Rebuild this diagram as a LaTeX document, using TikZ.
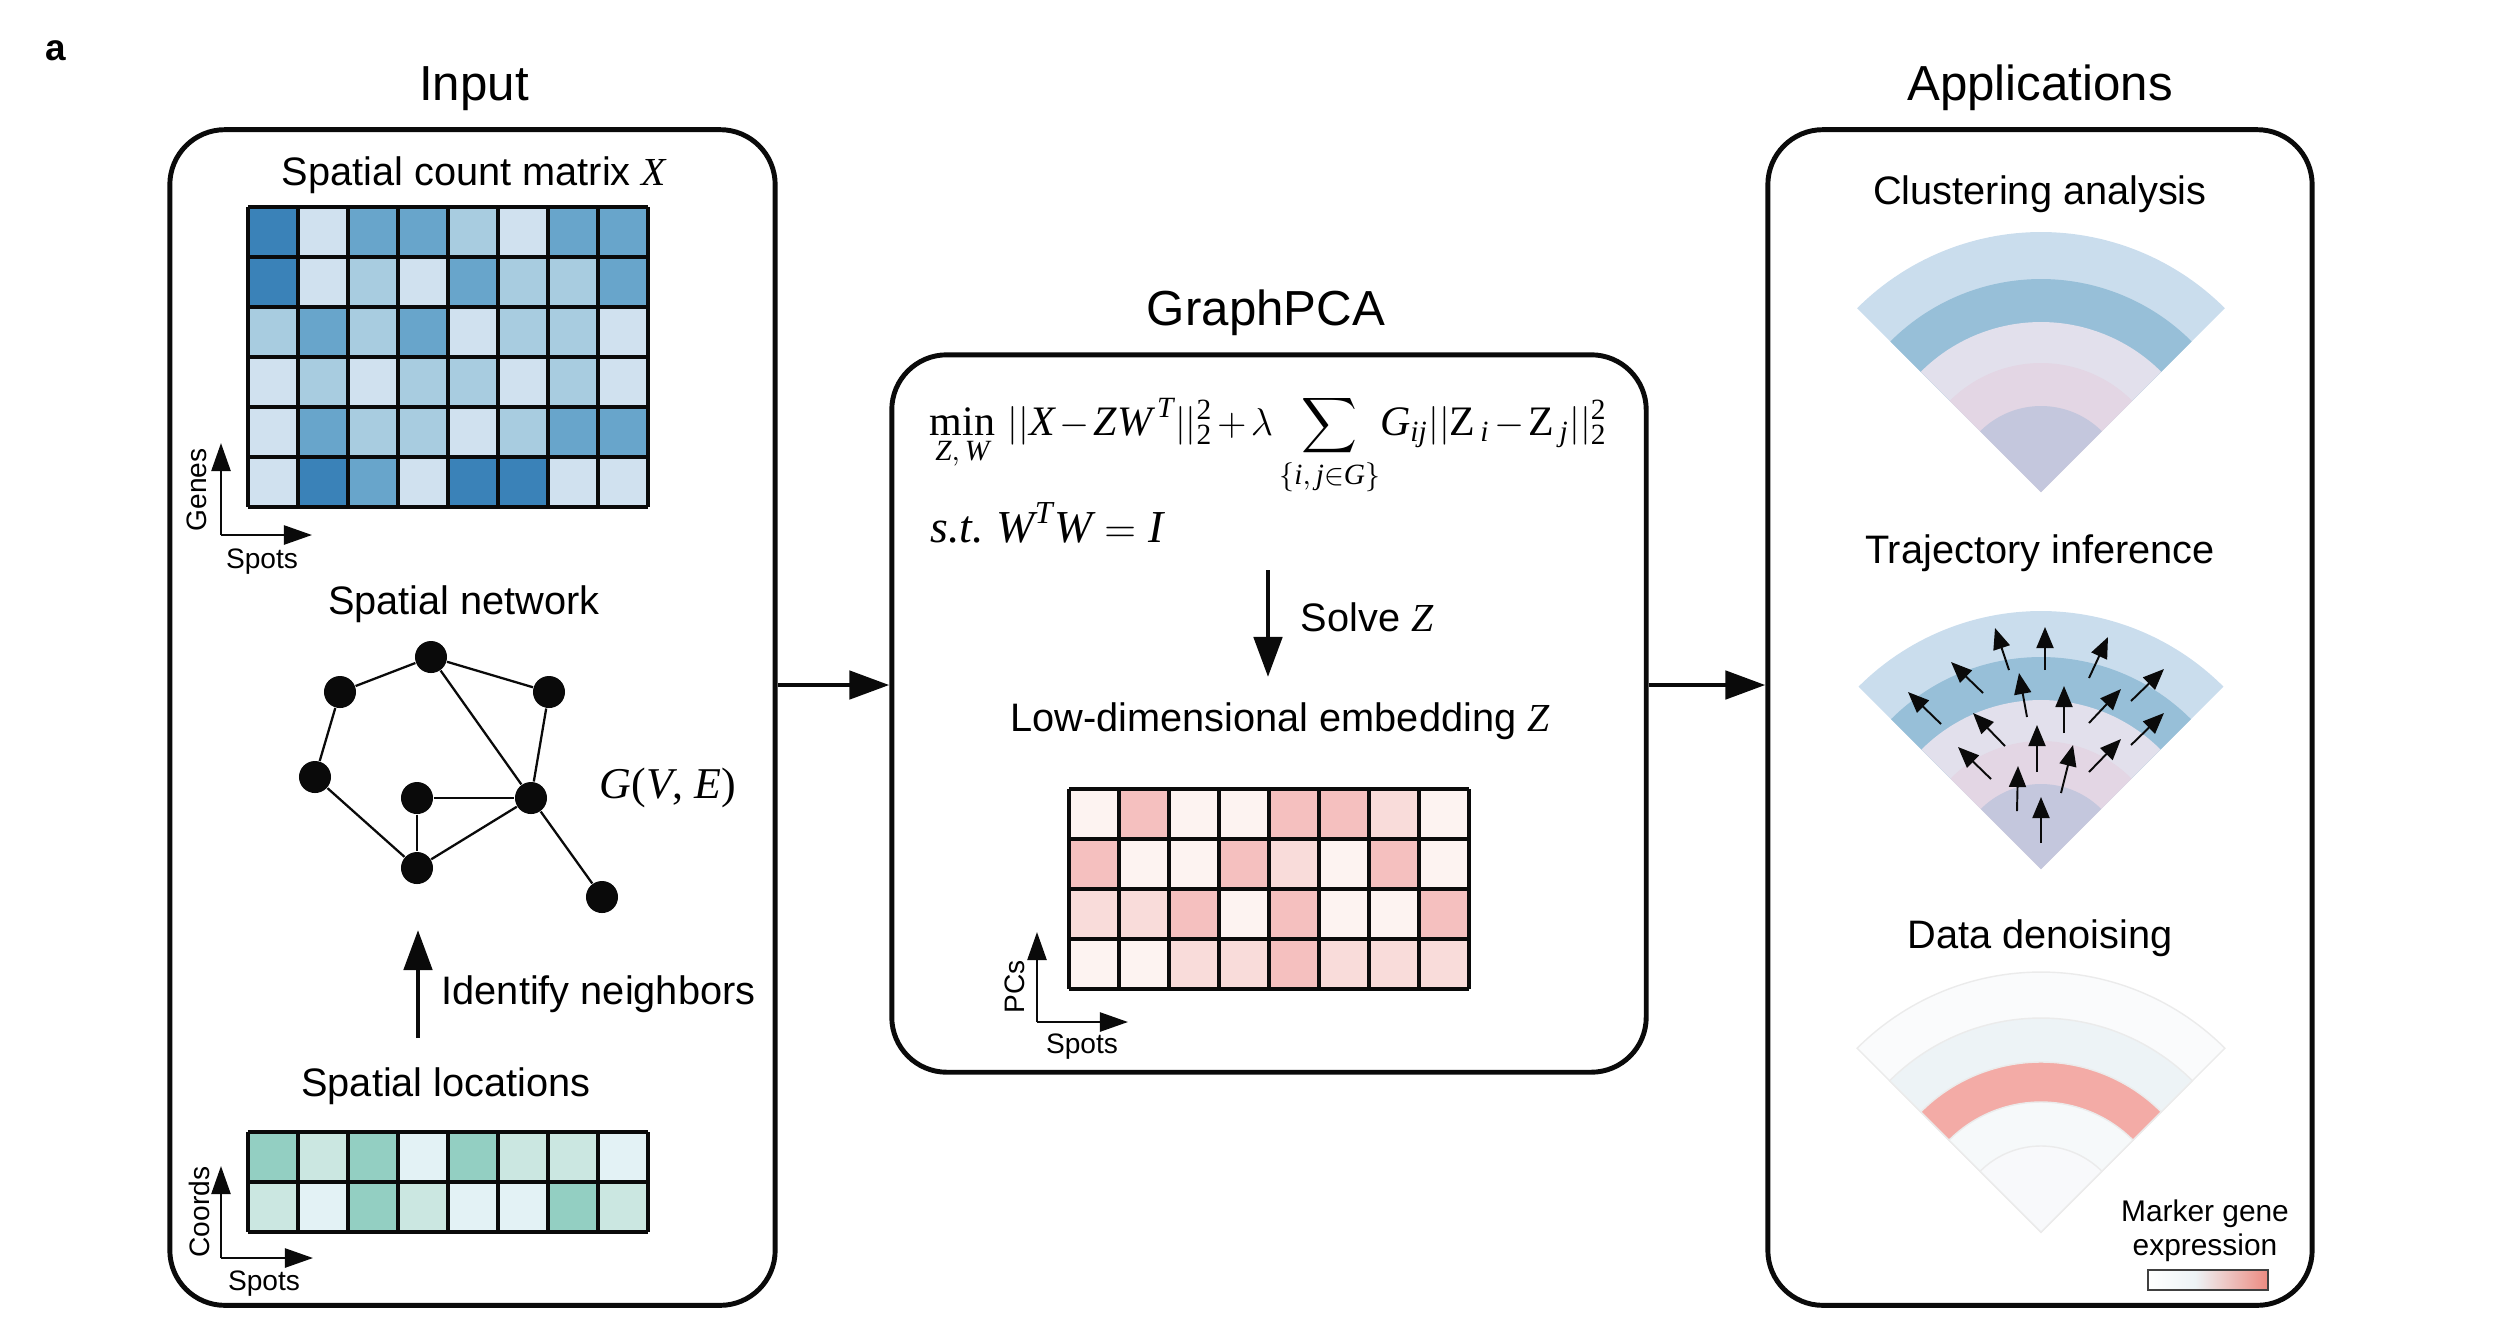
\documentclass[tikz,border=0pt]{standalone}
\usepackage{amsmath}
\usepackage{graphicx}
\usepackage[no-math]{fontspec}
\setmainfont{Liberation Sans}
\newfontfamily\tms{Liberation Serif}
\newcommand{\mv}[1]{\text{\tms\itshape #1}}
\newcommand{\mr}[1]{\text{\tms #1}}
\usetikzlibrary{arrows.meta,calc}
\definecolor{ink}{HTML}{0A0A0A}
\definecolor{bD}{HTML}{3A82B8}
\definecolor{bM}{HTML}{68A5CB}
\definecolor{bL}{HTML}{A8CCE0}
\definecolor{bV}{HTML}{D0E1EF}
\definecolor{gD}{HTML}{93CFC2}
\definecolor{gL}{HTML}{CBE7E1}
\definecolor{gV}{HTML}{E3F2F5}
\definecolor{pV}{HTML}{FDF3F1}
\definecolor{pL}{HTML}{F9DCDA}
\definecolor{pM}{HTML}{F5C0BF}
\definecolor{fA}{HTML}{CADDED}
\definecolor{fB}{HTML}{97BFD8}
\definecolor{fC}{HTML}{E2E0EC}
\definecolor{fD}{HTML}{E3D6E4}
\definecolor{fE}{HTML}{C4C7DD}
\definecolor{dA}{HTML}{FAFBFC}
\definecolor{dB}{HTML}{EDF3F6}
\definecolor{dC}{HTML}{F3ABA6}
\definecolor{dD}{HTML}{F6F9FA}
\definecolor{dE}{HTML}{F8F9FB}
\definecolor{cbR}{HTML}{EC8A80}
\tikzset{
  panel/.style={draw=ink, line width=1.4pt, rounded corners=0.55cm, inner sep=0pt},
  bigarrow/.style={draw=ink, line width=1.4pt, -{Triangle[length=0.4cm,width=0.28cm]}},
  axarrow/.style={draw=ink, line width=0.7pt, -{Triangle[length=0.28cm,width=0.19cm]}},
  trajarrow/.style={draw=ink, line width=0.55pt, -{Triangle[length=0.21cm,width=0.17cm]}},
  gridline/.style={draw=ink, line width=1pt},
  gnode/.style={circle, fill=ink, minimum size=0.32cm, inner sep=0pt},
  gedge/.style={draw=ink, line width=0.65pt},
  title/.style={font=\fontsize{14}{16}\selectfont, anchor=base, inner sep=0pt},
  sub/.style={font=\fontsize{11.3}{13}\selectfont, anchor=base, inner sep=0pt},
  small/.style={font=\fontsize{8}{9}\selectfont, inner sep=0pt},
}
\begin{document}
\begin{tikzpicture}[x=0.01cm, y=-0.01cm]
\useasboundingbox (0,0) rectangle (2514,1338);

% panel label
\node[font=\fontsize{10.5}{12}\selectfont\bfseries, anchor=base, inner sep=0pt] (lbl) at (56,60) {a};

% titles
\node[title] (tin) at (474,100) {Input};
\node[title] (tgp) at (1266,325) {GraphPCA};
\node[title] (tap) at (2040,100) {Applications};

% panels
\node[panel, minimum width=6.05cm, minimum height=11.75cm] (inbox) at (472.5,717.5) {};
\node[panel, minimum width=7.54cm, minimum height=7.17cm] (midbox) at (1269,713.5) {};
\node[panel, minimum width=5.44cm, minimum height=11.75cm] (appbox) at (2040,717.5) {};

% connectors between panels
\coordinate (rowA) at (0,685);
\draw[bigarrow] (inbox.east |- rowA) -- (midbox.west |- rowA);
\draw[bigarrow] (midbox.east |- rowA) -- (appbox.west |- rowA);

% ---------- Input panel ----------
\node[sub] (tscm) at (474,185) {Spatial count matrix {\tms\itshape X}};
\foreach \row [count=\r from 0] in {{bD,bV,bM,bM,bL,bV,bM,bM},{bD,bV,bL,bV,bM,bL,bL,bM},{bL,bM,bL,bM,bV,bL,bL,bV},{bV,bL,bV,bL,bL,bV,bL,bV},{bV,bM,bL,bL,bV,bL,bM,bM},{bV,bD,bM,bV,bD,bD,bV,bV}}{
  \foreach \c [count=\k from 0] in \row {
    \fill[\c] ({248+50*\k},{207+50*\r}) rectangle ++(50,50);
  }
}
\foreach \k in {0,...,8} \draw[gridline] ({248+50*\k},207) -- ({248+50*\k},507);
\foreach \r in {0,...,6} \draw[gridline] (248,{207+50*\r}) -- (648,{207+50*\r});

\coordinate (gax) at (221,535);
\coordinate (gaxU) at (221,443);
\coordinate (gaxR) at (312,535);
\draw[axarrow] (gax) -- (gaxU);
\draw[axarrow] (gax) -- (gaxR);
\node[small, rotate=90] (lgenes) at (197,490) {Genes};
\node[small] (lspots1) at (262,562) {Spots};

\node[sub] (tsn) at (464,614) {Spatial network};
\node[gnode] (n1) at (431,657) {};
\node[gnode] (n2) at (340,692) {};
\node[gnode] (n3) at (549,692) {};
\node[gnode] (n4) at (315,777) {};
\node[gnode] (n5) at (417,798) {};
\node[gnode] (n6) at (531,798) {};
\node[gnode] (n7) at (417,868) {};
\node[gnode] (n8) at (602,897) {};
\draw[gedge] (n1) -- (n2);
\draw[gedge] (n1) -- (n3);
\draw[gedge] (n2) -- (n4);
\draw[gedge] (n4) -- (n7);
\draw[gedge] (n1) -- (n6);
\draw[gedge] (n3) -- (n6);
\draw[gedge] (n5) -- (n6);
\draw[gedge] (n5) -- (n7);
\draw[gedge] (n7) -- (n6);
\draw[gedge] (n6) -- (n8);
\node[font=\fontsize{12.5}{14}\selectfont\tms, inner sep=0pt] (gve) at (668,788) {\itshape G\upshape(\itshape V\upshape, \itshape E\upshape)};

\coordinate (idA) at (418,1038);
\coordinate (idB) at (418,930);
\draw[bigarrow] (idA) -- (idB);
\node[sub, anchor=base west] (tid) at (441,1004) {Identify neighbors};
\node[sub] (tsl) at (446,1096) {Spatial locations};

\foreach \row [count=\r from 0] in {{gD,gL,gD,gV,gD,gL,gL,gV},{gL,gV,gD,gL,gV,gV,gD,gL}}{
  \foreach \c [count=\k from 0] in \row {
    \fill[\c] ({248+50*\k},{1132+50*\r}) rectangle ++(50,50);
  }
}
\foreach \k in {0,...,8} \draw[gridline] ({248+50*\k},1132) -- ({248+50*\k},1232);
\foreach \r in {0,...,2} \draw[gridline] (248,{1132+50*\r}) -- (648,{1132+50*\r});

\coordinate (cax) at (221,1258);
\coordinate (caxU) at (221,1166);
\coordinate (caxR) at (313,1258);
\draw[axarrow] (cax) -- (caxU);
\draw[axarrow] (cax) -- (caxR);
\node[small, rotate=90] (lcoords) at (199,1212) {Coords};
\node[small] (lspots2) at (264,1284) {Spots};

% ---------- GraphPCA panel ----------
\node[font=\fontsize{13}{15}\selectfont, anchor=base west, inner sep=0pt] (form) at (929,435)
  {\resizebox{6.77cm}{!}{$\medmuskip=2mu\thickmuskip=3mu\displaystyle \mathop{\mr{min}}\limits_{\mv{Z},\,\mv{W}}\, ||\mv{X} - \mv{ZW}^{\,\mv{T}}||_{\mr{2}}^{\mr{2}} + \lambda \sum\limits_{\{\mv{i},\,\mv{j}\in \mv{G}\}}\! \mv{G}_{\mv{ij}}||\mr{Z}_{\,\mv{i}} - \mr{Z}_{\,\mv{j}}||_{\mr{2}}^{\mr{2}}$}};
\node[font=\fontsize{13}{15}\selectfont, anchor=base west, inner sep=0pt] (st) at (930,542)
  {$\mv{s.t.}\ \mv{W}^{\mv{T}}\mv{W} = \mv{I}$};
\coordinate (svA) at (1268,570);
\coordinate (svB) at (1268,677);
\draw[bigarrow] (svA) -- (svB);
\node[sub, anchor=base west] (tsolve) at (1300,631) {Solve {\tms\itshape Z}};
\node[sub] (tlow) at (1280,731) {Low-dimensional embedding {\tms\itshape Z}};

\foreach \row [count=\r from 0] in {{pV,pM,pV,pV,pM,pM,pL,pV},{pM,pV,pV,pM,pL,pV,pM,pV},{pL,pL,pM,pV,pM,pV,pV,pM},{pV,pV,pL,pL,pM,pL,pL,pL}}{
  \foreach \c [count=\k from 0] in \row {
    \fill[\c] ({1069+50*\k},{789+50*\r}) rectangle ++(50,50);
  }
}
\foreach \k in {0,...,8} \draw[gridline] ({1069+50*\k},789) -- ({1069+50*\k},989);
\foreach \r in {0,...,4} \draw[gridline] (1069,{789+50*\r}) -- (1469,{789+50*\r});

\coordinate (pax) at (1037,1022);
\coordinate (paxU) at (1037,932);
\coordinate (paxR) at (1128,1022);
\draw[axarrow] (pax) -- (paxU);
\draw[axarrow] (pax) -- (paxR);
\node[small, rotate=90] (lpcs) at (1015,987) {PCs};
\node[small] (lspots3) at (1082,1047) {Spots};

% ---------- Applications panel ----------
\node[sub] (tclu) at (2040,204) {Clustering analysis};
\foreach \rad/\col in {260/fA,213/fB,170/fC,129/fD,86/fE}
  \fill[\col] (2041,492) -- plot[domain=-135:-45, samples=60] ({2041+\rad*cos(\x)},{492+\rad*sin(\x)}) -- cycle;

\node[sub] (ttra) at (2040,563) {Trajectory inference};
\foreach \rad/\col in {258/fA,212/fB,169/fC,128/fD,85/fE}
  \fill[\col] (2041,869) -- plot[domain=-135:-45, samples=60] ({2041+\rad*cos(\x)},{869+\rad*sin(\x)}) -- cycle;
\foreach \ax/\ay/\bx/\by in {2009/670/1995/628, 2045/670/2045/627, 2089/678/2108/637, 1983/693/1951/662, 2027/717/2019/673, 2064/733/2064/686, 2089/723/2121/689, 2131/701/2164/669, 1941/724/1908/692, 2005/746/1973/713, 2037/772/2037/725, 2089/772/2121/739, 2131/745/2164/713, 1991/779/1958/747, 2017/811/2018/766, 2061/793/2073/745, 2041/843/2041/797}
  \draw[trajarrow] (\ax,\ay) -- (\bx,\by);

\node[sub] (tden) at (2040,948) {Data denoising};
\foreach \rad/\col in {260/dA,214/dB,170/dC,130/dD,86/dE}
  \filldraw[fill=\col, draw=black!8, line width=0.4pt] (2041,1232) -- plot[domain=-135:-45, samples=60] ({2041+\rad*cos(\x)},{1232+\rad*sin(\x)}) -- cycle;

\node[font=\fontsize{8.5}{10}\selectfont, anchor=base, inner sep=0pt] (tmk1) at (2205,1221) {Marker gene};
\node[font=\fontsize{8.5}{10}\selectfont, anchor=base, inner sep=0pt] (tmk2) at (2205,1255) {expression};
\shade[left color=white, right color=dB] (2148,1270) rectangle (2195,1290);
\shade[left color=dB, right color=cbR] (2195,1270) rectangle (2268,1290);
\draw[black!75, line width=0.5pt] (2148,1270) rectangle (2268,1290);
\end{tikzpicture}
\end{document}
